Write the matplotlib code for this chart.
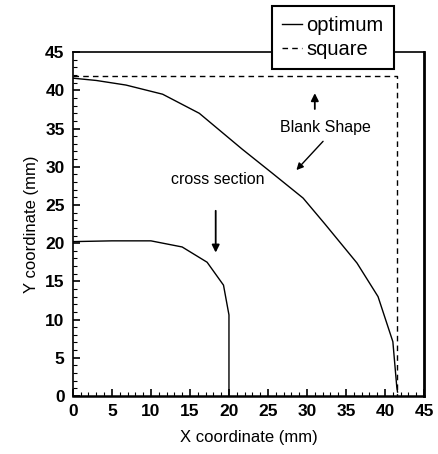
import matplotlib
matplotlib.use("Agg")
import matplotlib.pyplot as plt
from matplotlib.ticker import MultipleLocator

plt.rcParams['font.family'] = ['Liberation Sans', 'DejaVu Sans']

# cross section profile (mm)
cross_x = [0, 5, 10, 14, 17.2, 19.3, 20.0, 20.0]
cross_y = [20.2, 20.3, 20.3, 19.5, 17.5, 14.5, 10.6, 0]

# optimum blank shape (mm)
opt_x = [0, 3, 6.8, 11.5, 16.2, 21.7, 25.5, 29.5, 32.3, 36.4, 39.1, 41.0, 41.5, 41.6]
opt_y = [41.6, 41.3, 40.7, 39.5, 37.0, 32.3, 29.2, 25.9, 22.5, 17.4, 13.0, 7.1, 1.2, 0.5]

# square blank
sq_x = [0, 41.5, 41.5]
sq_y = [41.9, 41.9, 0]

fig = plt.figure(figsize=(4.39, 4.54), dpi=100)
ax = fig.add_axes([0.166, 0.128, 0.800, 0.757])

ax.plot(cross_x, cross_y, color='black', lw=1.0)
l1, = ax.plot(opt_x, opt_y, color='black', lw=1.0, label='optimum')
l2, = ax.plot(sq_x, sq_y, color='black', lw=1.0, ls=(0, (4, 3)), label='square')

ax.set_xlim(0, 45)
ax.set_ylim(0, 45)
ax.xaxis.set_major_locator(MultipleLocator(5))
ax.yaxis.set_major_locator(MultipleLocator(5))
ax.xaxis.set_minor_locator(MultipleLocator(1))
ax.yaxis.set_minor_locator(MultipleLocator(1))
ax.tick_params(which='major', direction='in', length=5, width=1.2, labelsize=12.5, pad=6)
ax.tick_params(which='minor', direction='in', length=3, width=0.8)
for lab in ax.get_xticklabels() + ax.get_yticklabels():
    lab.set_fontweight('bold')
ax.spines['right'].set_linewidth(2.0)
ax.spines['bottom'].set_linewidth(1.8)
ax.spines['left'].set_linewidth(1.2)
ax.spines['top'].set_linewidth(1.2)

ax.set_xlabel('X coordinate (mm)', fontsize=12, labelpad=8)
ax.set_ylabel('Y coordinate (mm)', fontsize=12, labelpad=4)

ax.text(32.4, 35.1, 'Blank Shape', ha='center', va='center', fontsize=11.5)
ax.annotate('', xy=(31.0, 40.0), xytext=(31.0, 37.2),
            arrowprops=dict(arrowstyle='-|>', color='black', lw=1.3, mutation_scale=11))
ax.annotate('', xy=(28.4, 29.3), xytext=(32.3, 33.6),
            arrowprops=dict(arrowstyle='-|>', color='black', lw=1.0, mutation_scale=10))

ax.text(18.6, 28.3, 'cross section', ha='center', va='center', fontsize=11.5)
ax.annotate('', xy=(18.3, 18.4), xytext=(18.3, 24.6),
            arrowprops=dict(arrowstyle='-|>', color='black', lw=1.3, mutation_scale=11))

leg = fig.legend(handles=[l1, l2], loc='upper left', bbox_to_anchor=(272 / 439, 1 - 6 / 454),
                 frameon=True, fancybox=False, edgecolor='black', fontsize=14.5,
                 handlelength=1.0, handletextpad=0.2, borderpad=0.5, labelspacing=0.25,
                 borderaxespad=0)
leg.get_frame().set_linewidth(1.5)
leg.get_frame().set_alpha(1)

fig.savefig('out.png', dpi=100)
